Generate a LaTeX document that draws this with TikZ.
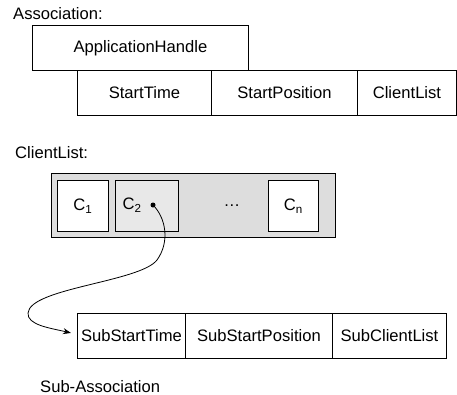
\documentclass[tikz,border=0pt]{standalone}
\usepackage{fontspec}
\setmainfont{Liberation Sans}
\usetikzlibrary{arrows.meta}
\definecolor{listgray}{HTML}{DDDDDD}
\definecolor{cellgray}{HTML}{E8E8E8}
\tikzset{
  field/.style={draw, line width=0.9pt, inner sep=0pt, anchor=north west},
  caption/.style={anchor=west, inner sep=0pt},
  txt/.style={font=\fontsize{16.6}{20}\selectfont},
}
\begin{document}
\begin{tikzpicture}[x=1pt, y=-1pt, txt]
\useasboundingbox (0,0) rectangle (457,394);

% Association record
\node[caption] (assoclbl) at (13,14) {Association:};
\node[field, minimum width=216pt, minimum height=45pt] (apph) at (32,25) {ApplicationHandle};
\node[field, minimum width=134pt, minimum height=45pt] (stime) at (77,70) {StartTime};
\node[field, minimum width=146pt, minimum height=45pt] (spos) at (211,70) {StartPosition};
\node[field, minimum width=99pt, minimum height=45pt] (clist) at (357,70) {ClientList};

% Client list
\node[caption] (cllbl) at (15,153) {ClientList:};
\node[field, fill=listgray, minimum width=284pt, minimum height=64pt] (outer) at (51,173) {};
\node[field, fill=white, minimum width=51pt, minimum height=51pt] (c1) at (57,180) {};
\node at (c1.center) {C\textsubscript{1}};
\node[field, fill=cellgray, minimum width=63pt, minimum height=51pt] (c2) at (115,180) {};
\node[anchor=center] (c2t) at (132,205) {C\textsubscript{2}};
\node[field, fill=white, minimum width=50pt, minimum height=51pt] (cn) at (268,180) {};
\node at (cn.center) {C\textsubscript{n}};
\node (dots) at (232,206) {\dots};
\node[circle, fill=black, inner sep=0pt, minimum size=5pt] (ptr) at (153,205) {};

% Sub-association record
\node[field, minimum width=108pt, minimum height=45pt] (sst) at (77,313) {SubStartTime};
\node[field, minimum width=147pt, minimum height=45pt] (ssp) at (185,313) {SubStartPosition};
\node[field, minimum width=114pt, minimum height=45pt] (scl) at (332,313) {SubClientList};
\node[caption] (sublbl) at (40,387) {Sub-Association};

% Pointer from C2 to the sub-association
\coordinate (tip) at ([xshift=-6pt, yshift=3pt]sst.west);
\draw[line width=0.8pt, -{Stealth[length=8pt, width=6pt]}]
  (ptr.center) .. controls (166,218) and (170,242) .. (157,260)
  .. controls (140,282) and (30,288) .. (28,313)
  .. controls (27,325) and (50,328) .. (tip);
\end{tikzpicture}
\end{document}
